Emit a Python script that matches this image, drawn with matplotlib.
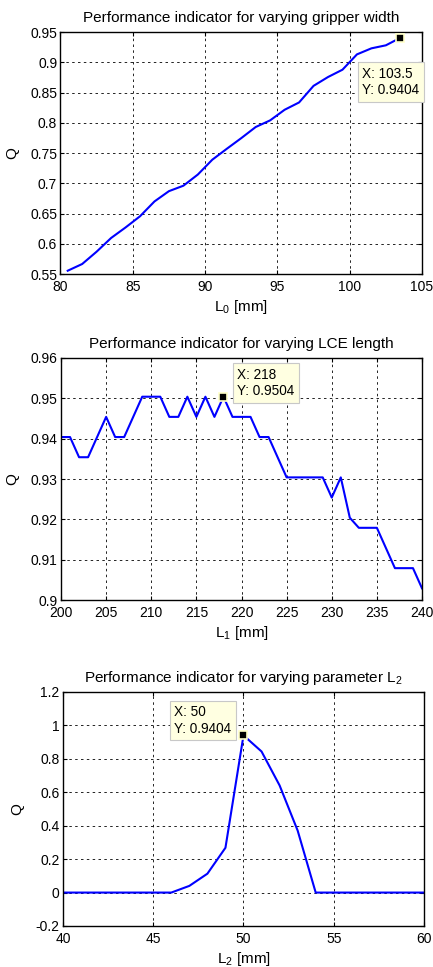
import matplotlib
matplotlib.use('Agg')
from matplotlib import pyplot as plt
from matplotlib.ticker import FormatStrFormatter, MultipleLocator

plt.rc('font', family='Liberation Sans', size=10)
plt.rc('mathtext', fontset='custom', rm='Liberation Sans', it='Liberation Sans')

# gripper width sweep
l0 = [80.5, 81.5, 82.5, 83.5, 84.5, 85.5, 86.5, 87.5, 88.5, 89.5, 90.5, 91.5,
      92.5, 93.5, 94.5, 95.5, 96.5, 97.5, 98.5, 99.5, 100.5, 101.5, 102.5, 103.5]
q0 = [0.5555, 0.5666, 0.587, 0.6096, 0.627, 0.6455, 0.670, 0.687, 0.696, 0.7145,
      0.739, 0.757, 0.7746, 0.793, 0.804, 0.8215, 0.8336, 0.861, 0.8756, 0.8877,
      0.913, 0.923, 0.928, 0.9404]

# LCE length sweep
l1 = list(range(200, 241))
q1 = [0.9404, 0.9404, 0.9354, 0.9354, 0.9404, 0.9454, 0.9404, 0.9404, 0.9454,
      0.9504, 0.9504, 0.9504, 0.9454, 0.9454, 0.9504, 0.9454, 0.9504, 0.9454,
      0.9504, 0.9454, 0.9454, 0.9454, 0.9404, 0.9404, 0.9354, 0.9304, 0.9304,
      0.9304, 0.9304, 0.9304, 0.9254, 0.9304, 0.9204, 0.9179, 0.9179, 0.9179,
      0.9129, 0.9079, 0.9079, 0.9079, 0.9029]

# parameter L2 sweep
l2 = list(range(40, 61))
q2 = [0, 0, 0, 0, 0, 0, 0, 0.04, 0.113, 0.268, 0.9404, 0.844, 0.641, 0.371,
      0, 0, 0, 0, 0, 0, 0]

tips = [(103.5, 0.9404, '103.5'), (218, 0.9504, '218'), (50, 0.9404, '50')]

panels = [
    dict(rect=[0.1397, 0.7166, 0.8349, 0.2503], x=l0, y=q0,
         xlim=(80, 105), ylim=(0.55, 0.95), xstep=5, ystep=0.05,
         title='Performance indicator for varying gripper width',
         xlabel=r'$\mathregular{L_0}$ [mm]', off=(-38, -29)),
    dict(rect=[0.1409, 0.3795, 0.8337, 0.2503], x=l1, y=q1,
         xlim=(200, 240), ylim=(0.9, 0.96), xstep=5, ystep=0.01,
         title='Performance indicator for varying LCE length',
         xlabel=r'$\mathregular{L_1}$ [mm]', off=(14, 29)),
    dict(rect=[0.1455, 0.0424, 0.8337, 0.2420], x=l2, y=q2,
         xlim=(40, 60), ylim=(-0.2, 1.2), xstep=5, ystep=0.2,
         title=r'Performance indicator for varying parameter $\mathregular{L_2}$',
         xlabel=r'$\mathregular{L_2}$ [mm]', off=(-69, 30)),
]

fig = plt.figure(figsize=(4.33, 9.67), dpi=100)

for p, (tx, ty, tlabel) in zip(panels, tips):
    ax = fig.add_axes(p['rect'])
    ax.plot(p['x'], p['y'], color='blue', lw=1.5)
    ax.set_xlim(*p['xlim'])
    ax.set_ylim(*p['ylim'])
    ax.xaxis.set_major_locator(MultipleLocator(p['xstep']))
    ax.yaxis.set_major_locator(MultipleLocator(p['ystep']))
    ax.yaxis.set_major_formatter(FormatStrFormatter('%g'))
    ax.xaxis.set_major_formatter(FormatStrFormatter('%g'))
    ax.grid(True, color='black', lw=0.6, linestyle=(0, (3, 4)))
    ax.tick_params(direction='in', length=3, top=True, right=True)
    ax.tick_params(axis='x', pad=4.3)
    ax.tick_params(axis='y', pad=2.4)
    for s in ax.spines.values():
        s.set_linewidth(1.0)
    ax.set_title(p['title'], fontsize=11, pad=7)
    ax.set_xlabel(p['xlabel'], fontsize=11, labelpad=3)
    ax.set_ylabel('Q', fontsize=11, labelpad=8)

    # data tip
    ax.plot([tx], [ty], 's', mfc='black', mec='#ffffc8', mew=1.2, ms=6,
            zorder=5, clip_on=False)
    ax.annotate(f'X: {tlabel}\nY: {ty:.4f}', xy=(tx, ty),
                xytext=p['off'], textcoords='offset pixels',
                ha='left', va='top', fontsize=9.8, linespacing=1.2,
                bbox=dict(boxstyle='square,pad=0.35', fc='#ffffe1',
                          ec='#c8c8c8', lw=0.8),
                annotation_clip=False, zorder=6)

fig.savefig('out.png', dpi=100)
